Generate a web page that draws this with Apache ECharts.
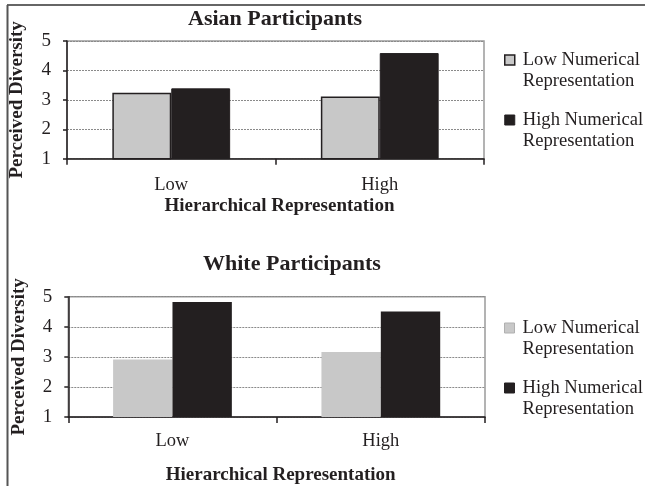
<!DOCTYPE html>
<html>
<head>
<meta charset="utf-8">
<script src="https://cdn.jsdelivr.net/npm/echarts@6/dist/echarts.min.js"></script>
<style>
html,body{margin:0;padding:0;background:#fff;}
#chart{width:645px;height:486px;}
</style>
</head>
<body>
<div id="chart"></div>
<script>
const categories = ['Low', 'High'];
const seriesNames = ['Low Numerical Representation', 'High Numerical Representation'];
const asianLow = [3.24, 3.11];
const asianHigh = [3.39, 4.59];
const whiteLow = [2.91, 3.16];
const whiteHigh = [4.82, 4.51];
const yTicks = [1, 2, 3, 4, 5];

const FONT = '"Liberation Serif", "Times New Roman", serif';
const INK = '#231f20';
const LIGHT = '#c8c8c8';

function yAxis(gridIndex, margin) {
  return {
    type: 'value', gridIndex: gridIndex, min: yTicks[0], max: yTicks[yTicks.length - 1], interval: 1,
    name: 'Perceived Diversity', nameLocation: 'middle', nameRotate: 90, nameGap: 40,
    nameTextStyle: { fontFamily: FONT, fontWeight: 'bold', fontSize: 19, color: INK },
    axisLine: { show: true, lineStyle: { color: INK, width: 1.5 } },
    axisTick: { show: true, length: 4, lineStyle: { color: INK, width: 1.5 } },
    axisLabel: { fontFamily: FONT, fontSize: 19, color: INK, margin: margin },
    splitLine: { show: true, lineStyle: { color: '#8a8a8a', type: [2, 1], width: 1 } }
  };
}
function xAxis(gridIndex, labelMargin, nameGap) {
  return {
    type: 'category', gridIndex: gridIndex, data: categories,
    name: 'Hierarchical Representation', nameLocation: 'middle', nameGap: nameGap,
    nameTextStyle: { fontFamily: FONT, fontWeight: 'bold', fontSize: 19, color: INK, padding: [0, 0, 0, 8] },
    axisLine: { show: true, lineStyle: { color: INK, width: 1.5 } },
    axisTick: { show: true, length: 6, lineStyle: { color: INK, width: 1.5 } },
    axisLabel: { fontFamily: FONT, fontSize: 18.5, color: INK, margin: labelMargin }
  };
}
function legend(top, lightItemStyle) {
  return {
    left: 499, top: top, orient: 'vertical', itemGap: -3,
    icon: 'rect', itemWidth: 10, itemHeight: 10,
    data: [
      { name: seriesNames[0], itemStyle: lightItemStyle },
      { name: seriesNames[1], itemStyle: { color: INK, borderColor: INK, borderWidth: 1 } }
    ],
    selectedMode: false,
    formatter: function (n) { return '\n' + n.replace(' Representation', '\nRepresentation'); },
    textStyle: { fontFamily: FONT, fontSize: 18.6, color: INK, lineHeight: 21, padding: [0, 0, 0, 3] }
  };
}

const chart = echarts.init(document.getElementById('chart'), null, { renderer: 'canvas' });
chart.setOption({
  backgroundColor: '#fff',
  animation: false,
  title: [
    { text: 'Asian Participants', left: 183, top: 3, textStyle: { fontFamily: FONT, fontWeight: 'bold', fontSize: 22, color: INK } },
    { text: 'White Participants', left: 198, top: 248, textStyle: { fontFamily: FONT, fontWeight: 'bold', fontSize: 22, color: INK } }
  ],
  legend: [
    legend(23.5, { color: LIGHT, borderColor: INK, borderWidth: 1.5 }),
    legend(291.5, { color: LIGHT, borderColor: '#b0b0b0', borderWidth: 1 })
  ],
  grid: [
    { left: 66.7, top: 41, width: 417.3, height: 117.7, show: true, borderColor: '#9a9a9a', borderWidth: 1.5, backgroundColor: 'transparent' },
    { left: 68.3, top: 296.7, width: 416.7, height: 122.6, show: true, borderColor: '#9a9a9a', borderWidth: 1.5, backgroundColor: 'transparent' }
  ],
  xAxis: [xAxis(0, 17, 38), xAxis(1, 15, 49)],
  yAxis: [yAxis(0, 16), yAxis(1, 16)],
  series: [
    { type: 'bar', name: seriesNames[0], xAxisIndex: 0, yAxisIndex: 0, data: asianLow, barGap: '0%', barCategoryGap: '43.5%',
      itemStyle: { color: LIGHT, borderColor: INK, borderWidth: 1.5 } },
    { type: 'bar', name: seriesNames[1], xAxisIndex: 0, yAxisIndex: 0, data: asianHigh, barGap: '0%', barCategoryGap: '43.5%',
      itemStyle: { color: INK, borderColor: INK, borderWidth: 1 } },
    { type: 'bar', name: seriesNames[0], xAxisIndex: 1, yAxisIndex: 1, data: whiteLow, barGap: '0%', barCategoryGap: '43%',
      itemStyle: { color: LIGHT } },
    { type: 'bar', name: seriesNames[1], xAxisIndex: 1, yAxisIndex: 1, data: whiteHigh, barGap: '0%', barCategoryGap: '43%',
      itemStyle: { color: INK } }
  ],
  graphic: [
    { type: 'line', shape: { x1: 7, y1: 5, x2: 645, y2: 5 }, style: { stroke: '#333', lineWidth: 1.5 } },
    { type: 'line', shape: { x1: 7.5, y1: 5, x2: 7.5, y2: 486 }, style: { stroke: '#555', lineWidth: 2 } }
  ]
});
</script>
</body>
</html>
